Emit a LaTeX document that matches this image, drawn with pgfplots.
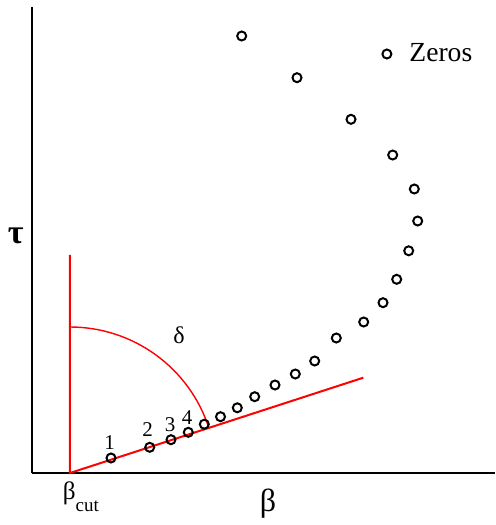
\documentclass[border=0pt]{standalone}
\usepackage{fontspec}
\setmainfont{Liberation Serif}
\usepackage{pgfplots}
\pgfplotsset{compat=1.18}
\begin{document}
\begin{tikzpicture}
\begin{axis}[
  x=0.5pt, y=0.5pt,
  xmin=32, xmax=495, ymin=52, ymax=518,
  axis x line=bottom, axis y line=left,
  axis line style={-, line width=1pt},
  x axis line style={-}, y axis line style={-},
  xtick=\empty, ytick=\empty,
  clip=false,
  legend style={at={(axis cs:382,471)}, anchor=west, draw=none, fill=none,
    inner sep=0pt, font=\fontsize{13.8}{15}\selectfont},
]
% zeros (pixel-based units)
\addplot[only marks, mark=o, mark size=2.25pt, mark options={line width=1pt}] coordinates {
  (111,67) (149.7,77.7) (171,85.3) (188.3,92.7) (204.3,100.8)
  (220.5,108.3) (237.3,117.2) (254.7,128.3) (275,140) (295.3,151)
  (314.7,164) (336.3,187) (363.7,203) (383,222.3) (396.7,245.7)
  (408.7,274.2) (417.7,304) (414.3,336) (392.7,370) (351,405.7)
  (297,447.3) (241.7,489)
};
\addlegendentry{\hspace{7pt}Zeros}

% cut line and angle
\draw[red, line width=1pt] (axis cs:70,270) -- (axis cs:70,52) -- (axis cs:363.3,147.3);
\draw[red, line width=0.7pt] (axis cs:70,198) arc[start angle=90, end angle=18, radius=73pt];

\node[font=\fontsize{12}{14}\selectfont] at (axis cs:179,190) {δ};
\node[font=\bfseries\fontsize{17}{19}\selectfont] at (axis cs:15.8,289) {τ};
\node[font=\fontsize{16}{18}\selectfont, anchor=base] at (axis cs:268,14) {β};
\node[anchor=base west, inner sep=0pt, font=\fontsize{12.6}{14}\selectfont] at (axis cs:62.5,26)
  {β\raisebox{-6.3pt}{\fontsize{9.5}{11}\selectfont cut}};

\node[anchor=base, inner sep=0pt, font=\fontsize{10.5}{12}\selectfont] at (axis cs:109.7,76) {1};
\node[anchor=base, inner sep=0pt, font=\fontsize{10.5}{12}\selectfont] at (axis cs:147.7,88.3) {2};
\node[anchor=base, inner sep=0pt, font=\fontsize{10.5}{12}\selectfont] at (axis cs:170,94) {3};
\node[anchor=base, inner sep=0pt, font=\fontsize{10.5}{12}\selectfont] at (axis cs:187,101) {4};

\path (axis cs:0,0) rectangle (axis cs:495,525);
\end{axis}
\end{tikzpicture}
\end{document}
